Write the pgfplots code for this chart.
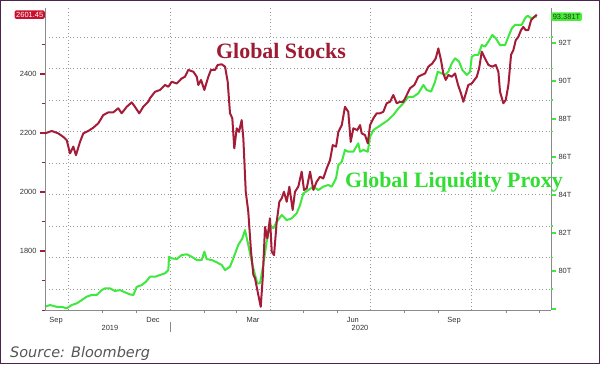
\documentclass[border=0pt]{standalone}
\usepackage{fontspec}
\setmainfont{Liberation Sans}
\newfontfamily\serifb{Liberation Serif}
\newfontfamily\dejavu{DejaVu Sans}
\usepackage{pgfplots}
\usepackage{pgfplotstable}
\pgfplotsset{compat=1.18}
\definecolor{stockred}{HTML}{A51C38}
\definecolor{liqgreen}{HTML}{3EE83E}
\definecolor{labred}{HTML}{9E1B34}
\definecolor{labgreen}{HTML}{33DD33}
\definecolor{tagred}{HTML}{C8102E}
\definecolor{taggreen}{HTML}{44EE33}
\definecolor{framepurple}{HTML}{4B2450}
\definecolor{axgray}{HTML}{8A8A8A}
\definecolor{txtgray}{HTML}{333333}
\definecolor{srcgray}{HTML}{555555}

\pgfplotstableread{
d v
-113.5 2199
-107.4 2207
-101.5 2199
-96.9 2187
-93.8 2176
-90.8 2131
-87.8 2154
-85.4 2125
-81.7 2170
-78.7 2199
-74.2 2207
-69.7 2218
-65.1 2233
-60.6 2261
-56.0 2270
-51.5 2270
-47.0 2284
-43.9 2267
-39.3 2289
-34.8 2304
-31.8 2289
-27.9 2267
-24.3 2289
-19.7 2306
-18.2 2318
-13.6 2340
-9.1 2346
-4.5 2363
-1.5 2357
1.5 2374
6.1 2368
10.6 2385
13.6 2391
16.6 2414
21.2 2408
24.3 2391
25.7 2363
28.2 2380
31.2 2346
34.8 2391
37.2 2414
40.9 2414
43.3 2431
47.0 2433
50.0 2425
52.4 2374
54.5 2267
56.6 2250
58.4 2148
60.6 2216
62.7 2204
65.1 2244
66.6 2182
68.8 2001
71.1 1933
73.6 1798
75.7 1719
77.2 1708
80.2 1651
82.4 1611
84.2 1708
86.3 1882
88.4 1843
90.8 1911
92.4 1798
94.5 1786
96.9 1899
99.3 1967
101.5 1979
103.5 2001
106.0 1967
108.4 2018
111.4 1939
113.5 2001
116.5 2018
119.6 2069
121.7 2007
124.2 2013
127.2 2069
130.2 2007
133.2 2035
136.2 2052
139.2 2046
142.3 2080
145.3 2108
147.8 2159
150.8 2154
152.9 2204
156.0 2227
158.9 2289
161.9 2272
164.1 2170
166.5 2216
170.1 2210
172.6 2227
174.1 2199
177.1 2193
179.6 2165
181.7 2227
184.7 2250
187.7 2267
190.7 2267
193.7 2272
196.8 2301
199.8 2306
202.8 2329
205.9 2301
208.9 2306
211.9 2306
215.0 2329
218.0 2352
221.9 2363
225.5 2391
228.6 2397
231.6 2402
234.6 2425
238.2 2436
241.3 2453
243.7 2487
246.1 2447
248.2 2402
250.4 2380
252.8 2397
255.9 2391
258.9 2402
261.6 2363
264.3 2334
266.4 2306
268.6 2334
270.9 2363
274.0 2368
276.4 2380
278.6 2391
280.7 2419
283.1 2476
286.1 2453
289.1 2431
292.7 2425
295.8 2431
298.2 2408
299.7 2340
302.7 2301
304.9 2312
307.3 2363
309.7 2465
311.8 2481
314.0 2515
316.3 2526
318.8 2549
320.8 2560
323.0 2549
325.4 2549
327.9 2583
330.9 2594
333.1 2601.45
}\stocks

\pgfplotstableread{
d v
-113.5 78.12
-109.0 78.21
-102.9 78.12
-98.4 78.12
-93.8 78.04
-89.3 78.21
-84.7 78.30
-80.2 78.47
-75.7 78.65
-71.1 78.74
-66.6 78.74
-62.0 79.00
-59.0 79.09
-54.5 79.09
-50.0 78.95
-45.4 79.00
-40.9 78.88
-36.3 78.77
-33.3 78.74
-30.2 79.17
-25.7 79.26
-21.8 79.44
-18.2 79.70
-13.6 79.70
-9.1 79.79
-4.5 79.88
-1.5 80.05
-0.9 80.75
1.5 80.67
6.1 80.63
10.6 80.84
15.2 80.88
19.7 80.75
24.3 80.58
28.8 80.58
31.2 81.02
33.3 80.63
37.9 80.58
42.4 80.46
47.0 80.32
50.0 80.05
54.5 80.23
57.5 80.67
62.0 81.37
65.7 81.72
68.1 82.16
71.1 81.37
73.6 80.67
75.7 80.14
79.3 79.35
81.7 79.35
84.7 80.32
87.8 81.54
90.8 82.42
93.8 82.25
96.9 82.59
101.5 82.95
106.0 82.68
110.5 82.77
115.1 83.04
118.1 83.47
121.1 84.09
125.6 84.26
130.2 84.44
134.7 84.26
139.2 84.44
143.8 84.53
146.9 84.44
150.8 84.88
152.9 85.58
156.0 85.75
158.9 86.37
161.9 86.28
166.5 86.28
171.0 86.72
172.6 86.28
175.6 86.37
179.6 86.28
181.7 87.07
184.7 87.42
189.2 87.59
193.7 87.77
198.3 87.95
202.8 88.21
207.4 88.56
211.9 88.83
216.4 89.17
221.0 89.17
225.5 89.35
230.1 89.79
233.1 89.53
237.1 89.44
240.7 89.96
243.1 90.49
246.1 90.41
249.8 90.32
252.8 90.49
255.9 90.93
258.9 91.19
262.5 91.02
265.5 90.58
269.5 90.32
272.5 90.49
274.0 91.28
277.0 91.37
280.0 91.37
283.1 91.89
286.1 91.81
289.1 92.07
292.7 92.42
295.8 92.25
299.7 91.89
304.3 91.89
307.3 92.33
310.4 92.77
313.4 92.95
316.3 92.95
319.4 92.95
322.4 93.30
324.8 93.44
327.9 93.30
331.5 93.38
333.1 93.381
}\liquidity

\begin{document}
\begin{tikzpicture}[x=1bp,y=1bp]
\useasboundingbox (0,0) rectangle (600,364);
\fill[white] (0,0) rectangle (600,364);
\draw[framepurple, line width=1.3bp] (0.65,0.65) rectangle (599.35,363.35);

% liquidity axis (right), with x axis and grid
\begin{axis}[
  at={(45bp,54bp)}, anchor=south west, scale only axis,
  width=506bp, height=302bp,
  xmin=-113.5, xmax=346, ymin=77.95, ymax=93.84,
  axis x line*=bottom, axis y line*=right,
  axis line style={axgray, line width=0.8bp, -},
  tick align=outside,
  xtick={-103.5,-15.4,75.4,166,258},
  xticklabels={Sep,Dec,Mar,Jun,Sep},
  major x tick style={draw=none},
  minor xtick={-61,-31,31,60,121,152,213,244,305,335},
  minor x tick style={axgray, line width=0.7bp},
  minor tick length=3bp,
  extra x ticks={-92,0,91,182,274},
  extra x tick labels={},
  extra x tick style={grid=major, major tick length=3bp, tick style={axgray, line width=0.7bp}},
  extra y ticks={92.316,90.658,89.0,87.342,85.684,84.026,82.368,80.711,79.053},
  extra y tick labels={},
  extra y tick style={grid=major, major tick length=2bp, tick style={axgray, line width=0.7bp}},
  major grid style={gray!80, line width=0.9bp, dash pattern=on 0.9bp off 2.6bp},
  ytick={78,80,82,84,86,88,90,92},
  yticklabels={,80T,82T,84T,86T,88T,90T,92T},
  major y tick style={liqgreen, line width=1.3bp},
  major tick length=5bp,
  ticklabel style={font=\fontsize{7.5}{8}\selectfont, text=txtgray},
  xticklabel style={yshift=1bp},
  yticklabel style={xshift=-1bp},
  clip=false,
]
\addplot[liqgreen, line width=2bp, line join=round] table[x=d, y=v] {\liquidity};
\node[anchor=west, fill=taggreen, text=txtgray, rounded corners=1.5bp, inner sep=1.6bp,
  font=\fontsize{7.5}{8}\selectfont] at (rel axis cs:1,0.9711) {93.381T};
\end{axis}

% stocks axis (left)
\begin{axis}[
  at={(45bp,54bp)}, anchor=south west, scale only axis,
  width=506bp, height=302bp,
  xmin=-113.5, xmax=346, ymin=1600, ymax=2624,
  axis x line=none, axis y line*=left,
  axis line style={axgray, line width=0.8bp, -},
  tick align=outside,
  ytick={1800,2000,2200,2400},
  yticklabels={1800,2000,2200,2400},
  minor ytick={1600,1700,1900,2100,2300,2500},
  major y tick style={stockred, line width=1.3bp},
  minor y tick style={stockred, line width=0.9bp},
  major tick length=5bp, minor tick length=3bp,
  ticklabel style={font=\fontsize{7.5}{8}\selectfont, text=txtgray},
  clip=false,
]
\addplot[stockred, line width=2bp, line join=round] table[x=d, y=v] {\stocks};
\node[anchor=east, fill=tagred, text=white, rounded corners=1.5bp, inner sep=1.6bp,
  font=\fontsize{7.5}{8}\selectfont] at (rel axis cs:0,0.9780) {2601.45};
\end{axis}

% year labels and separator
\node[font=\fontsize{7.5}{8}\selectfont, text=txtgray] at (110,36) {2019};
\node[font=\fontsize{7.5}{8}\selectfont, text=txtgray] at (360,36) {2020};
\draw[axgray, line width=0.7bp] (170,32) -- (170,42);

% annotations
\node[anchor=base, font=\serifb\bfseries\fontsize{22}{24}\selectfont, text=labred, inner sep=0] at (281,306) {Global Stocks};
\node[anchor=base west, font=\serifb\bfseries\fontsize{22}{24}\selectfont, text=labgreen, inner sep=0] at (345,177) {Global Liquidity Proxy};

% source
\node[anchor=base west, font=\dejavu\itshape\fontsize{14.5}{16}\selectfont, text=srcgray, inner sep=0] at (10,7) {Source: Bloomberg};
\end{tikzpicture}
\end{document}
